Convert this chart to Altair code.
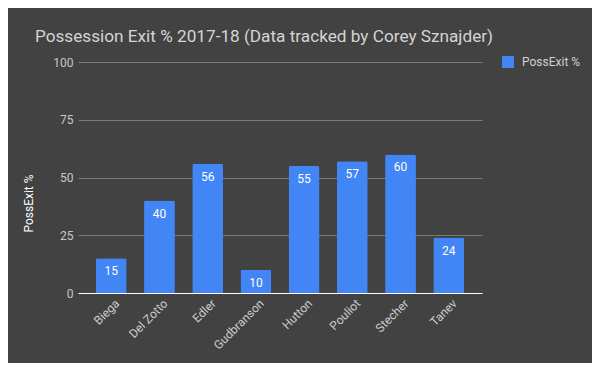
import altair as alt
import pandas as pd

players = ["Biega", "Del Zotto", "Edler", "Gudbranson", "Hutton", "Pouliot", "Stecher", "Tanev"]
possexit = [15, 40, 56, 10, 55, 57, 60, 24]
series_name = ["PossExit %"] * len(players)

df = pd.DataFrame({"Player": players, "PossExit": possexit, "Series": series_name})

base = alt.Chart(df).encode(
    x=alt.X("Player:N", sort=players, title=None,
            scale=alt.Scale(paddingInner=0.36, paddingOuter=0.37),
            axis=alt.Axis(labelAngle=-45, labelAlign="right", labelBaseline="middle",
                          labelColor="#cccccc", labelFont="Roboto", labelFontSize=12,
                          labelPadding=8, ticks=False, domain=True, domainColor="#ffffff",
                          domainWidth=1.2, grid=False, labelOffset=6)),
    y=alt.Y("PossExit:Q", title="PossExit %",
            scale=alt.Scale(domain=[0, 100], nice=False),
            axis=alt.Axis(values=[0, 25, 50, 75, 100], ticks=False, domain=False,
                          gridColor="#7a7a7a", gridWidth=1,
                          labelColor="#c8c8c8", labelFont="Roboto", labelFontSize=12,
                          labelPadding=5, titleColor="#ffffff", titleFont="Roboto",
                          titleFontSize=12, titleFontWeight="normal",
                          titleX=-43, titleY=141, titleAngle=-90)),
)

bars = base.mark_bar(cornerRadiusTopLeft=2, cornerRadiusTopRight=2).encode(
    color=alt.Color("Series:N", title=None,
                    scale=alt.Scale(range=["#4285f4"]),
                    legend=alt.Legend(orient="none", legendX=424, legendY=-6,
                                      symbolType="square", symbolSize=144,
                                      symbolStrokeWidth=0, labelColor="#d0d0d0",
                                      labelFont="Roboto", labelFontSize=12,
                                      padding=0, labelOffset=8))
)

labels = base.mark_text(baseline="middle", dy=13, color="#ffffff",
                        font="Roboto", fontSize=12).encode(text="PossExit:Q")

chart = (bars + labels).properties(
    width=404, height=231,
    autosize=alt.AutoSizeParams(type="none"),
    padding={"left": 70, "top": 54, "right": 110, "bottom": 70},
    background="#424242",
    title=alt.TitleParams("Possession Exit % 2017-18 (Data tracked by Corey Sznajder)",
                          color="#d4d4d4", font="Roboto", fontSize=17.2,
                          fontWeight="normal", anchor="middle", dx=-16,
                          baseline="alphabetic", offset=22, dy=25),
).configure_view(stroke=None)

chart.save("out.html", embed_options={"renderer": "svg", "actions": False})
